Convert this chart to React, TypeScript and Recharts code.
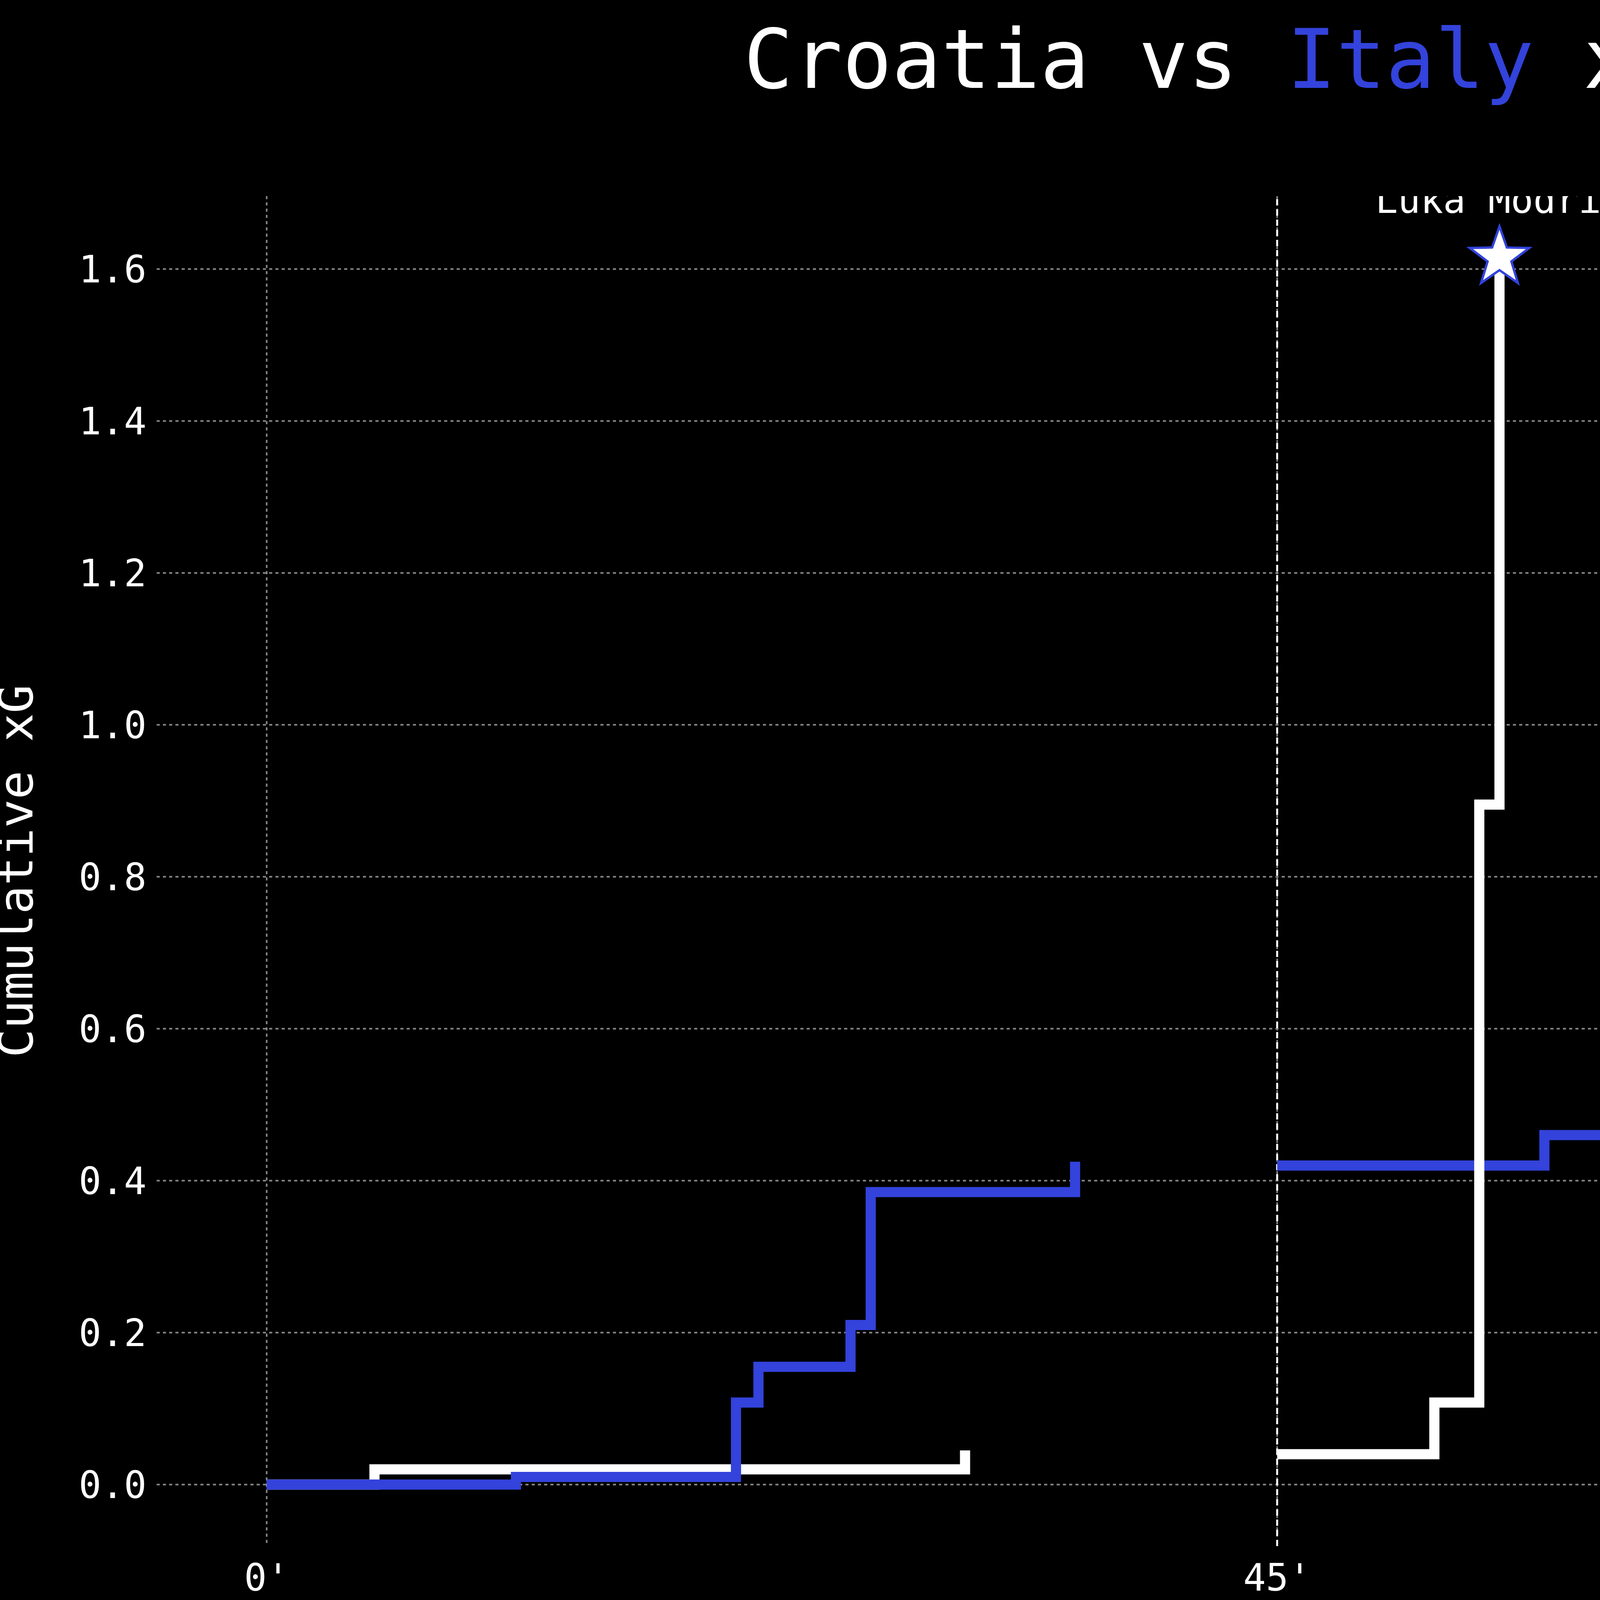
import { LineChart, Line, XAxis, YAxis, CartesianGrid, ReferenceLine } from 'recharts';

const W = 6842;
const H = 4528;
const BLUE = '#3343DB';
const MONO = '"DejaVu Sans Mono", monospace';

const croatiaFirst = [
  { min: 0, xg: 0 }, { min: 4.8, xg: 0.02 }, { min: 31.1, xg: 0.045 },
];
const croatiaSecond = [
  { min: 45, xg: 0.04 }, { min: 52.0, xg: 0.108 }, { min: 54.0, xg: 0.895 }, { min: 54.9, xg: 1.615 },
];
const italyFirst = [
  { min: 0, xg: 0 }, { min: 11.1, xg: 0.01 }, { min: 20.9, xg: 0.108 }, { min: 21.9, xg: 0.155 },
  { min: 26.0, xg: 0.21 }, { min: 26.9, xg: 0.385 }, { min: 36.0, xg: 0.425 },
];
const italySecond = [
  { min: 45, xg: 0.42 }, { min: 56.9, xg: 0.46 }, { min: 60.9, xg: 0.605 }, { min: 67.1, xg: 0.683 },
  { min: 72.0, xg: 0.768 }, { min: 73.0, xg: 0.885 }, { min: 91.9, xg: 0.895 }, { min: 98.0, xg: 0.975 },
];
const xTicks = [0, 45, 90];
const yTicks = [0, 0.2, 0.4, 0.6, 0.8, 1.0, 1.2, 1.4, 1.6];

function starPath(cx: number, cy: number, r: number) {
  const pts: string[] = [];
  for (let i = 0; i < 10; i++) {
    const rr = i % 2 === 0 ? r : r * 0.4;
    const a = -Math.PI / 2 + (i * Math.PI) / 5;
    pts.push(`${cx + rr * Math.cos(a)},${cy + rr * Math.sin(a)}`);
  }
  return `M${pts.join('L')}Z`;
}

function starDot(len: number, fill: string, stroke: string, name: string, color: string) {
  return (props: any) => {
    const { cx, cy, index } = props;
    if (index !== len - 1) return <g key={`d${index}`} />;
    return (
      <g key={`d${index}`}>
        <path d={starPath(cx, cy, 80)} fill={fill} stroke={stroke} strokeWidth={6} />
        <text x={cx} y={cy - 115} textAnchor="middle" fill={color} fontSize={96} fontFamily={MONO}>{name}</text>
      </g>
    );
  };
}

export default function App() {
  const common = { type: 'stepAfter' as const, dataKey: 'xg', strokeWidth: 26, isAnimationActive: false, activeDot: false };
  return (
    <div style={{ position: 'absolute', left: 0, top: 0, width: W, height: H, background: '#000', fontFamily: MONO }}>
      <LineChart width={W} height={H} margin={{ top: 502, right: 244, left: 0, bottom: 0 }}>
        <CartesianGrid stroke="#888" strokeDasharray="8 8" strokeWidth={4}
          horizontalValues={yTicks} verticalValues={xTicks} syncWithTicks />
        <XAxis type="number" dataKey="min" domain={[-4.9, 102.9]} ticks={xTicks} allowDataOverflow
          tickFormatter={(v: number) => `${v}'`} height={570} axisLine={false} tickLine={false}
          tick={{ fill: '#fff', fontSize: 96, fontFamily: MONO }} tickMargin={40} />
        <YAxis type="number" domain={[-0.081, 1.696]} ticks={yTicks} allowDataOverflow width={401}
          tickFormatter={(v: number) => v.toFixed(1)} axisLine={false} tickLine={false}
          tick={{ fill: '#fff', fontSize: 96, fontFamily: MONO }} tickMargin={20}
          label={{ value: 'Cumulative xG', angle: -90, position: 'insideLeft', offset: 40, fill: '#fff', fontSize: 122, fontFamily: MONO, style: { textAnchor: 'middle' } }} />
        <ReferenceLine x={45} stroke="#fff" strokeDasharray="16 10" strokeWidth={5} />
        <Line {...common} data={croatiaFirst} stroke="#fff" dot={false} />
        <Line {...common} data={italyFirst} stroke={BLUE} dot={false} />
        <Line {...common} data={italySecond} stroke={BLUE} dot={starDot(italySecond.length, BLUE, '#fff', 'Mattia Zaccagni', BLUE)} />
        <Line {...common} data={croatiaSecond} stroke="#fff" dot={starDot(croatiaSecond.length, '#fff', BLUE, 'Luka Modric', '#fff')} />
      </LineChart>
      <div style={{ position: 'absolute', top: 30, width: W, textAlign: 'center', color: '#fff', fontSize: 210 }}>
        Croatia vs <span style={{ color: BLUE }}>Italy</span> xG Plot
      </div>
      <div style={{ position: 'absolute', left: 1977, top: 4160, transform: 'translateX(-50%)', color: '#fff', fontSize: 140 }}>First Half</div>
      <div style={{ position: 'absolute', left: 4565, top: 4160, transform: 'translateX(-50%)', color: '#fff', fontSize: 140 }}>Second Half</div>
      <div style={{ position: 'absolute', left: 200, top: 4355, color: '#888', fontSize: 105, fontStyle: 'italic' }}>@indian_citizen/twitter</div>
      <div style={{ position: 'absolute', right: 310, top: 4355, color: '#888', fontSize: 105, fontStyle: 'italic' }}>Data Source : Opta</div>
    </div>
  );
}
